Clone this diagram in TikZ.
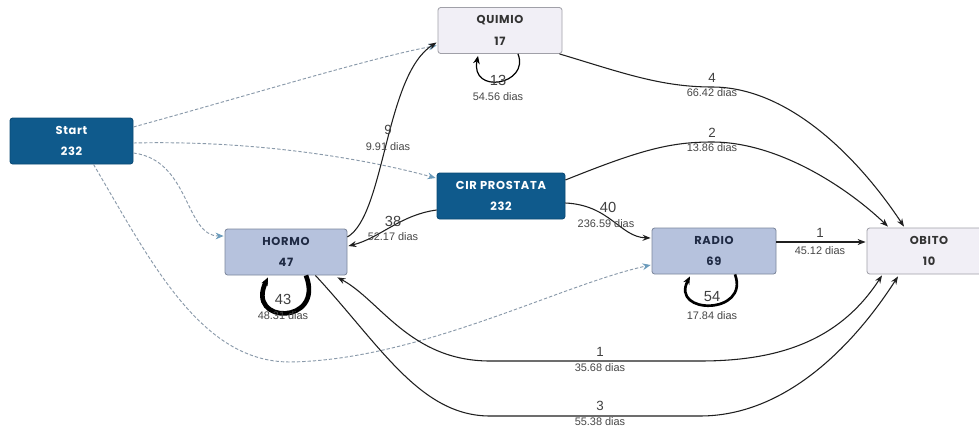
\documentclass[tikz,border=0pt]{standalone}
\usepackage{fontspec}
\setmainfont{Liberation Sans}
\newfontfamily\titlefont[LetterSpace=6]{Poppins}
\usetikzlibrary{arrows.meta,calc}
\definecolor{dblue}{HTML}{0F5A8C}
\definecolor{dbluedraw}{HTML}{0B4A75}
\definecolor{lblue}{HTML}{B6C2DD}
\definecolor{lbluedraw}{HTML}{7C879C}
\definecolor{lpurp}{HTML}{F1EFF6}
\definecolor{lpurpdraw}{HTML}{A0A0A8}
\definecolor{navytext}{HTML}{1F2A44}
\definecolor{dashc}{HTML}{8A9AAA}
\definecolor{tipc}{HTML}{6C9CBC}
\begin{document}
\begin{tikzpicture}[x=0.75pt,y=-0.75pt,
  basebox/.style={rectangle,rounded corners=2pt,inner sep=0pt,align=center,
    minimum width=#1*0.75pt,minimum height=34.5pt,line width=0.6pt,
    font=\titlefont\bfseries\fontsize{8.6}{9}\selectfont},
  darkbox/.style={basebox=#1,fill=dblue,draw=dbluedraw,text=white},
  lightbox/.style={basebox=#1,fill=lblue,draw=lbluedraw,text=navytext},
  palebox/.style={basebox=#1,fill=lpurp,draw=lpurpdraw,text=black!80},
  flow/.style={draw=black!88,line width=0.8pt,-{Stealth[length=6pt,width=4.5pt]}},
  bothflow/.style={draw=black!88,line width=0.8pt,{Stealth[length=6pt,width=4.5pt]}-{Stealth[length=6pt,width=4.5pt]}},
  dflow/.style={draw=dashc,line width=0.7pt,dash pattern=on 2.5pt off 1.5pt,
    -{Stealth[length=6pt,width=5pt,color=tipc]}},
  loopflow/.style={draw=black,line width=#1,-{Stealth[length=6pt,width=5pt]}},
  cnt/.style={font=\fontsize{10}{11}\selectfont,text=black!75,inner sep=0pt},
  bigcnt/.style={font=\fontsize{11}{12}\selectfont,text=black!75,inner sep=0pt},
  dias/.style={font=\fontsize{8.2}{9}\selectfont,text=black!72,inner sep=0pt}
]
\clip (0,0) rectangle (979,429);
\fill[white] (0,0) rectangle (979,429);

% nodes
\node[darkbox=123] (Start) at (71.5,141) {Start\\[7pt]232};
\node[palebox=124] (QUIMIO) at (500,30.5) {QUIMIO\\[7pt]17};
\node[darkbox=128] (CIR) at (501,196) {CIR PROSTATA\\[7pt]232};
\node[lightbox=122] (HORMO) at (286,252) {HORMO\\[7pt]47};
\node[lightbox=124] (RADIO) at (714,251) {RADIO\\[7pt]69};
\node[palebox=124] (OBITO) at (929,251) {OBITO\\[7pt]10};

% dashed start edges
\draw[dflow] ($(Start.east)+(0,-14)$) .. controls (250,95) and (370,58) .. ($(QUIMIO.west)+(-1,15)$);
\draw[dflow] ($(Start.east)+(0,2)$) .. controls (260,140) and (370,160) .. ($(CIR.west)+(-1,-18)$);
\draw[dflow] ($(Start.east)+(0,12)$) .. controls (190,160) and (185,236) .. ($(HORMO.west)+(-1,-16)$);
\draw[dflow] ($(Start.south)+(22,0)$) .. controls (150,260) and (200,362) .. (290,362)
   .. controls (420,360) and (560,285) .. ($(RADIO.west)+(-1,14)$);

% solid edges
\draw[flow] ($(HORMO.east)+(0,-15)$) .. controls (385,215) and (385,75) .. ($(QUIMIO.west)+(-1,12)$);
\draw[flow] ($(CIR.west)+(0,14)$) .. controls (400,215) and (380,238) .. ($(HORMO.east)+(1,-6)$);
\draw[flow] ($(CIR.east)+(0,7)$) .. controls (610,205) and (620,237) .. ($(RADIO.west)+(-1,-13)$);
\draw[flow] ($(CIR.east)+(0,-16)$) .. controls (640,150) and (670,142) .. (712,142)
   .. controls (780,142) and (850,190) .. ($(OBITO.north)+(-41,-1)$);
\draw[flow] ($(QUIMIO.south east)+(-3,0)$) .. controls (620,72) and (660,87) .. (712,87)
   .. controls (790,87) and (860,160) .. ($(OBITO.north)+(-25,-1)$);
\draw[flow] ($(RADIO.east)+(0,-9)$) -- ($(OBITO.west)+(-1,-9)$);
\draw[bothflow] ($(HORMO.south east)+(-10,2)$) .. controls (380,300) and (410,361) .. (490,361)
   -- (700,361) .. controls (780,361) and (840,340) .. ($(OBITO.south)+(-47,1)$);
\draw[flow] ($(HORMO.south east)+(-32,0)$) .. controls (380,345) and (420,416) .. (490,416)
   -- (700,416) .. controls (800,416) and (870,320) .. ($(OBITO.south)+(-31,2)$);

% self loops
\draw[loopflow=0.9pt] ($(QUIMIO.south)+(18,0)$) .. controls (530,85) and (470,95) .. ($(QUIMIO.south)+(-22,2)$);
\draw[loopflow=2pt] ($(RADIO.south)+(21,0)$) .. controls (750,315) and (670,315) .. ($(RADIO.south)+(-24,2)$);
\draw[loopflow=3.5pt] ($(HORMO.south)+(20,0)$) .. controls (325,325) and (245,325) .. ($(HORMO.south)+(-18,2)$);

% labels
\node[cnt] (l9) at (388,130) {9};
\node[dias] (d9) at (388,147) {9.91 dias};
\node[bigcnt] (l38) at (393,221) {38};
\node[dias] (d38) at (393,237) {52.17 dias};
\node[bigcnt] (l40) at (608,207) {40};
\node[dias] (d40) at (606,224) {236.59 dias};
\node[cnt] (l2) at (712,133) {2};
\node[dias] (d2) at (712,148) {13.86 dias};
\node[cnt] (l4) at (712,78) {4};
\node[dias] (d4) at (712,93) {66.42 dias};
\node[cnt] (l1r) at (820,233) {1};
\node[dias] (d1r) at (820,251) {45.12 dias};
\node[bigcnt] (l13) at (498,80) {13};
\node[dias] (d13) at (498,97) {54.56 dias};
\node[bigcnt] (l54) at (712,297) {54};
\node[dias] (d54) at (712,316) {17.84 dias};
\node[bigcnt] (l43) at (283,299) {43};
\node[dias] (d43) at (283,316) {48.31 dias};
\node[cnt] (l1b) at (600,352) {1};
\node[dias] (d1b) at (600,368) {35.68 dias};
\node[cnt] (l3) at (600,406) {3};
\node[dias] (d3) at (600,422) {55.38 dias};
\end{tikzpicture}
\end{document}
